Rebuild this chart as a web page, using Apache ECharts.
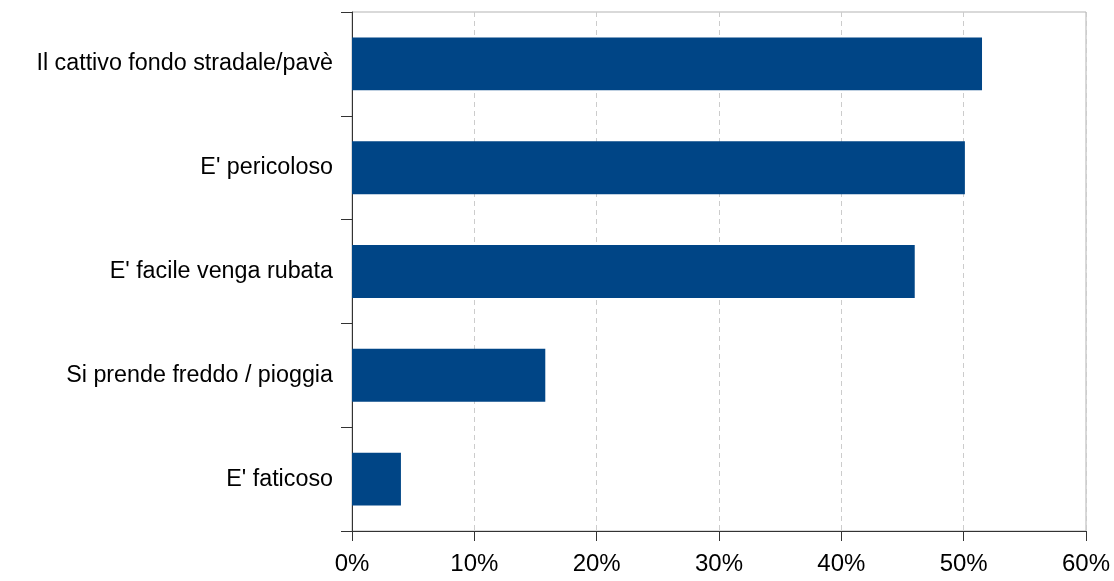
<!DOCTYPE html>
<html>
<head>
<meta charset="utf-8">
<script src="https://cdn.jsdelivr.net/npm/echarts@6/dist/echarts.min.js"></script>
<style>
  html, body { margin: 0; padding: 0; background: #fff; }
  #chart { width: 1114px; height: 581px; }
</style>
</head>
<body>
<div id="chart"></div>
<script>
// Reasons given for not cycling (share of respondents, %)
const categories = [
  "Il cattivo fondo stradale/pavè",
  "E' pericoloso",
  "E' facile venga rubata",
  "Si prende freddo / pioggia",
  "E' faticoso"
];
const values = [51.5, 50.1, 46.0, 15.8, 4.0];
const xTicks = [0, 10, 20, 30, 40, 50, 60];

const chart = echarts.init(document.getElementById('chart'), null, { renderer: 'canvas' });
const font = 'Liberation Sans, Arial, sans-serif';

chart.setOption({
  animation: false,
  backgroundColor: '#ffffff',
  grid: {
    left: 352, right: 28, top: 12, bottom: 50,
    show: true, borderColor: '#b3b3b3', borderWidth: 1, backgroundColor: 'transparent'
  },
  xAxis: {
    type: 'value',
    min: xTicks[0],
    max: xTicks[xTicks.length - 1],
    interval: 10,
    axisLine: { show: true, lineStyle: { color: '#333333', width: 1 } },
    axisTick: { show: true, length: 10, lineStyle: { color: '#333333' } },
    axisLabel: {
      formatter: v => v + '%',
      color: '#000', fontSize: 24, fontFamily: font, margin: 21
    },
    splitLine: { show: true, lineStyle: { color: '#cccccc', type: [5, 4], width: 1 } }
  },
  yAxis: {
    type: 'category',
    data: categories,
    inverse: true,
    axisLine: { show: true, lineStyle: { color: '#333333', width: 1 } },
    axisTick: { show: true, length: 11, alignWithLabel: false, lineStyle: { color: '#333333' } },
    axisLabel: { color: '#000', fontSize: 23.3, fontFamily: font, margin: 19 },
    splitLine: { show: false }
  },
  series: [{
    type: 'bar',
    data: values,
    barWidth: '51%',
    itemStyle: { color: '#004586' }
  }]
});
</script>
</body>
</html>
